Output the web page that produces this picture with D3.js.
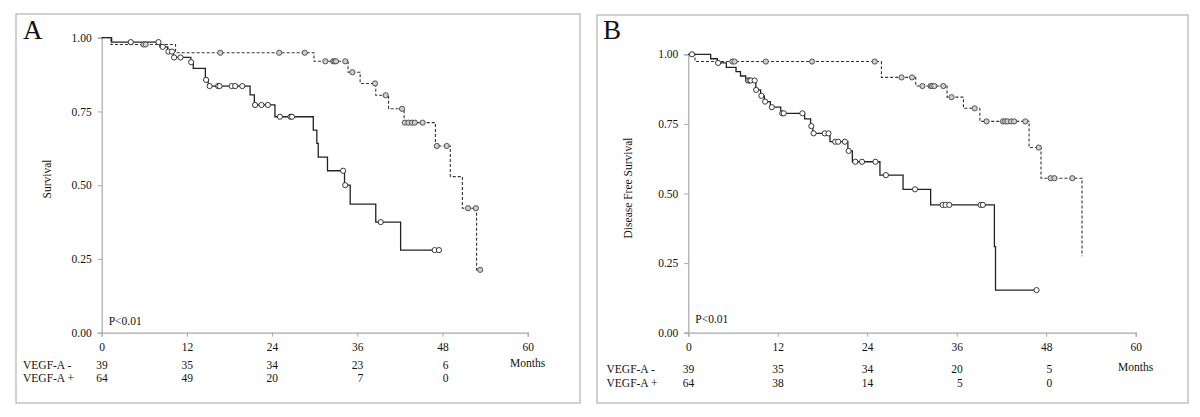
<!DOCTYPE html>
<html><head><meta charset="utf-8">
<script src="https://cdn.jsdelivr.net/npm/d3@7"></script>
<style>body{margin:0;background:#fff}svg{display:block}</style>
</head><body>
<svg id="c" width="1200" height="417"></svg>
<script>
// ---------- data ----------
const xTicks = [0, 12, 24, 36, 48, 60];
const yTicks = [0, 0.25, 0.5, 0.75, 1.0];
const riskTimes = [0, 12, 24, 36, 48];
const riskA_neg = [39, 35, 34, 23, 6];
const riskA_pos = [64, 49, 20, 7, 0];
const riskB_neg = [39, 35, 34, 20, 5];
const riskB_pos = [64, 38, 14, 5, 0];

// Panel A, VEGF-A + (solid)
const aPosStepT = [1.4, 8.2, 9.3, 10.1, 12.55, 12.9, 14.6, 15.0, 20.9, 21.5, 24.4, 29.8, 30.3, 30.5, 31.8, 34.2, 35.0, 38.6, 42.1];
const aPosStepS = [0.985, 0.969, 0.953, 0.933, 0.917, 0.896, 0.857, 0.836, 0.806, 0.772, 0.732, 0.687, 0.642, 0.595, 0.549, 0.500, 0.436, 0.375, 0.280];
const aPosCens = [4.1, 8.0, 8.6, 9.4, 9.9, 10.2, 11.1, 12.6, 14.7, 15.2, 16.4, 16.6, 18.3, 18.8, 19.8, 21.6, 22.5, 23.4, 25.1, 26.6, 26.8, 34.0, 34.3, 39.3, 46.9, 47.5];
const aPosEnd = 47.5;
// Panel A, VEGF-A - (dashed)
const aNegStepT = [1.3, 10.4, 29.9, 34.7, 36.4, 38.6, 40.4, 42.6, 47.0, 49.1, 50.8, 52.8];
const aNegStepS = [0.977, 0.949, 0.920, 0.883, 0.845, 0.805, 0.759, 0.712, 0.633, 0.529, 0.422, 0.213];
const aNegCens = [5.9, 6.2, 16.7, 25.0, 28.6, 31.5, 32.6, 32.8, 33.0, 34.3, 35.3, 38.5, 40.0, 42.3, 42.7, 43.2, 43.7, 44.1, 45.2, 47.2, 48.6, 51.6, 52.7, 53.3];
const aNegEnd = 53.3;

// Panel B, VEGF-A + (solid)
const bPosStepT = [3.0, 3.9, 5.1, 6.4, 7.0, 7.7, 9.05, 9.7, 10.2, 11.0, 12.4, 15.6, 16.4, 16.7, 19.0, 21.4, 22.0, 25.7, 28.8, 32.5, 41.05, 41.2];
const bPosStepS = [0.984, 0.969, 0.953, 0.938, 0.922, 0.906, 0.872, 0.851, 0.830, 0.810, 0.788, 0.768, 0.742, 0.716, 0.686, 0.653, 0.614, 0.566, 0.515, 0.459, 0.309, 0.153];
const bPosCens = [0.5, 4.0, 8.0, 8.2, 8.4, 8.9, 9.1, 9.8, 10.3, 11.2, 12.6, 12.8, 15.3, 16.5, 16.8, 18.3, 18.8, 19.7, 20.1, 21.0, 21.5, 22.4, 23.3, 25.1, 26.5, 30.4, 34.1, 34.5, 35.0, 39.2, 39.5, 46.7];
const bPosEnd = 46.7;
// Panel B, VEGF-A - (dashed)
const bNegStepT = [0.9, 25.9, 30.5, 34.7, 36.9, 39.1, 45.7, 47.3, 52.8];
const bNegStepS = [0.974, 0.917, 0.886, 0.846, 0.806, 0.759, 0.665, 0.555, 0.275];
const bNegCens = [5.9, 6.2, 10.4, 16.6, 25.0, 28.6, 30.0, 31.4, 32.5, 32.7, 33.0, 34.2, 35.3, 38.4, 40.0, 42.2, 42.5, 42.8, 43.3, 43.7, 45.2, 47.0, 48.6, 49.1, 51.5];
const bNegEnd = 52.8;

// ---------- drawing ----------
const svg = d3.select("#c");
const FONT = "'Liberation Serif','Times New Roman',serif";

function survAt(stepT, stepS, t) {
  let s = 1;
  for (let i = 0; i < stepT.length; i++) { if (stepT[i] <= t) s = stepS[i]; }
  return s;
}

function drawPanel(p) {
  const g = svg.append("g");
  g.append("rect").attr("x", p.box[0]).attr("y", p.box[1])
    .attr("width", p.box[2] - p.box[0]).attr("height", p.box[3] - p.box[1])
    .attr("fill", "none").attr("stroke", "#b8b8b8").attr("stroke-width", 1.3);

  const x = d3.scaleLinear().domain([0, 60]).range([p.x0, p.x1]);
  const y = d3.scaleLinear().domain([0, 1]).range([p.y0, p.y1]);

  const xAxis = d3.axisBottom(x).tickValues(xTicks).tickFormat(d3.format("d")).tickSizeOuter(0).tickSize(4).tickPadding(6);
  const yAxis = d3.axisLeft(y).tickValues(yTicks).tickFormat(d3.format(".2f")).tickSizeOuter(0).tickSize(4).tickPadding(6);
  const gx = g.append("g").attr("transform", `translate(0,${p.y0})`).call(xAxis);
  const gy = g.append("g").attr("transform", `translate(${p.x0},0)`).call(yAxis);
  [gx, gy].forEach(a => {
    a.select(".domain").attr("stroke", "#a8a8a8").attr("stroke-width", 1.2);
    a.selectAll(".tick line").attr("stroke", "#a8a8a8");
    a.selectAll(".tick text").attr("fill", "#111").style("font-family", FONT).style("font-size", "11.5px");
  });

  g.append("text").attr("x", p.letterX).attr("y", p.letterY).text(p.letter)
    .style("font-family", FONT).style("font-size", "27px").attr("fill", "#111");
  g.append("text").attr("transform", `translate(${p.ylabX},${p.ylabY}) rotate(-90)`)
    .attr("text-anchor", "middle").text(p.ylab)
    .style("font-family", FONT).style("font-size", "11.5px").attr("fill", "#111");
  g.append("text").attr("x", x(0) + 7).attr("y", p.pY).text("P<0.01")
    .style("font-family", FONT).style("font-size", "11.5px").attr("fill", "#111");
  const rows = [["VEGF-A -", p.riskNeg, p.row1], ["VEGF-A +", p.riskPos, p.row2]];
  rows.forEach(([lab, vals, yy]) => {
    g.append("text").attr("x", p.riskLabX).attr("y", yy).text(lab)
      .style("font-family", FONT).style("font-size", "11.5px").attr("fill", "#111");
    g.selectAll(null).data(vals).enter().append("text")
      .attr("x", (d, i) => x(riskTimes[i]) + 6).attr("y", yy).attr("text-anchor", "end")
      .text(d => d).style("font-family", FONT).style("font-size", "11.5px").attr("fill", "#111");
  });
  g.append("text").attr("x", x(60)).attr("y", p.monthsY).attr("text-anchor", "middle").text("Months")
    .style("font-family", FONT).style("font-size", "11.5px").attr("fill", "#111");

  const line = d3.line().x(d => x(d[0])).y(d => y(d[1])).curve(d3.curveStepAfter);
  function curve(stepT, stepS, end, dashed) {
    const pts = [[0, 1]].concat(stepT.map((t, i) => [t, stepS[i]]));
    pts.push([end, stepS[stepS.length - 1]]);
    g.append("path").attr("d", line(pts)).attr("fill", "none")
      .attr("stroke", dashed ? "#333" : "#222").attr("stroke-width", dashed ? 1.1 : 1.3)
      .attr("stroke-dasharray", dashed ? "3,2" : null);
  }
  const circles = (cens, stepT, stepS, dashed) => {
    g.selectAll(null).data(cens).enter().append("circle")
      .attr("cx", d => x(d)).attr("cy", d => y(survAt(stepT, stepS, d))).attr("r", 2.6)
      .attr("fill", dashed ? "#cfcfcf" : "#fff").attr("stroke", dashed ? "#444" : "#222").attr("stroke-width", 0.9);
  };
  curve(p.negT, p.negS, p.negEnd, true);
  curve(p.posT, p.posS, p.posEnd, false);
  circles(p.negC, p.negT, p.negS, true);
  circles(p.posC, p.posT, p.posS, false);
}

drawPanel({
  box: [16, 14, 580, 403], x0: 101.7, x1: 527.7, y0: 332.7, y1: 37.7,
  letter: "A", letterX: 23, letterY: 39, ylab: "Survival", ylabX: 51, ylabY: 179,
  pY: 325, row1: 369, row2: 382, monthsY: 367, riskLabX: 23,
  riskNeg: riskA_neg, riskPos: riskA_pos,
  posT: aPosStepT, posS: aPosStepS, posC: aPosCens, posEnd: aPosEnd,
  negT: aNegStepT, negS: aNegStepS, negC: aNegCens, negEnd: aNegEnd
});
drawPanel({
  box: [597, 15, 1188, 403], x0: 688.3, x1: 1135.7, y0: 332.7, y1: 54.3,
  letter: "B", letterX: 603, letterY: 39, ylab: "Disease Free Survival", ylabX: 632, ylabY: 188,
  pY: 322.7, row1: 373, row2: 386.5, monthsY: 370.5, riskLabX: 606.5,
  riskNeg: riskB_neg, riskPos: riskB_pos,
  posT: bPosStepT, posS: bPosStepS, posC: bPosCens, posEnd: bPosEnd,
  negT: bNegStepT, negS: bNegStepS, negC: bNegCens, negEnd: bNegEnd
});
</script>
</body></html>
